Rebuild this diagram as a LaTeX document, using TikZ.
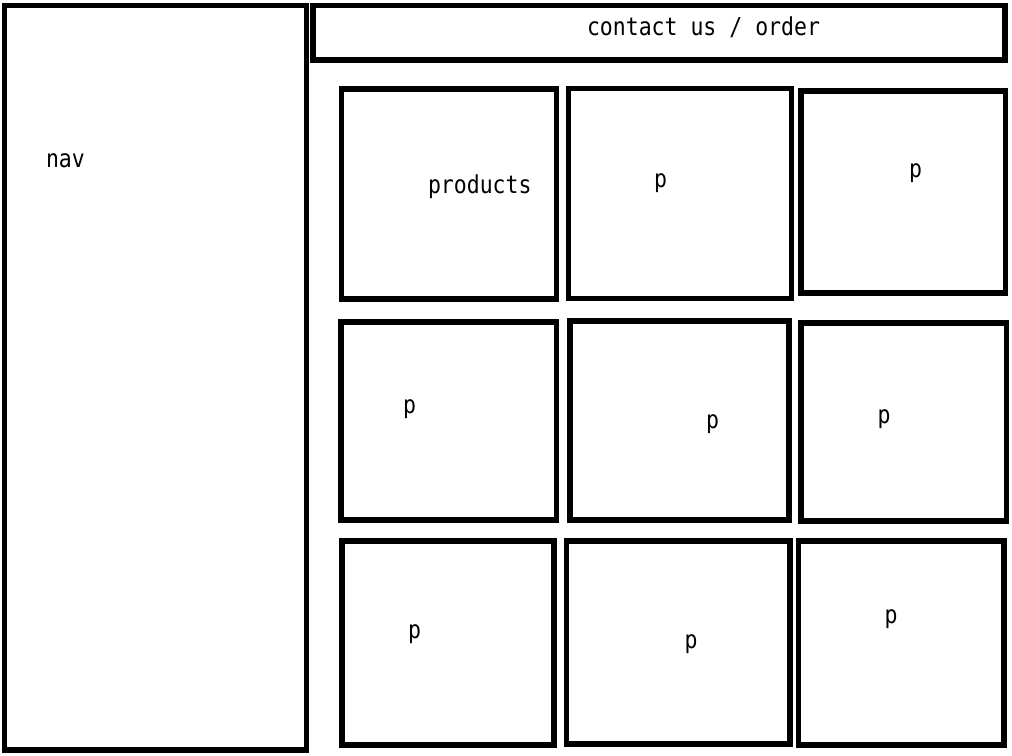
\documentclass[tikz,border=0pt]{standalone}
\usepackage{fontspec}
\usepackage{graphicx}
\newfontfamily\wfmono{DejaVu Sans Mono}
\newcommand\wftxt[1]{\scalebox{1}[1.15]{#1}}
\usetikzlibrary{fit}
\begin{document}
\begin{tikzpicture}[x=1pt,y=-1pt,
  box/.style={draw=black, line width=5.5pt, inner sep=0pt, outer sep=0pt},
  lbl/.style={inner sep=0pt, outer sep=0pt, font=\wfmono\fontsize{21.5}{24}\selectfont}]
\useasboundingbox[fill=white] (0,0) rectangle (1012,755);
% frames
\node[box, fit={(4.5,5.5) (306.5,750)}] (nav) {};
\node[box, fit={(313,5.5) (1005.2,60.2)}] (head) {};
\node[box, fit={(341.5,89.2) (556.5,299)}] (a) {};
\node[box, fit={(568.3,88.5) (791.5,298.3)}] (b) {};
\node[box, fit={(800.8,90.8) (1005.5,293.2)}] (c) {};
\node[box, fit={(340.8,321.8) (556.5,520.2)}] (d) {};
\node[box, fit={(569.8,320.8) (789.2,519.8)}] (e) {};
\node[box, fit={(800.8,323.2) (1006.5,520.8)}] (f) {};
\node[box, fit={(341.8,540.8) (554.2,745.2)}] (g) {};
\node[box, fit={(566.5,540.8) (789.8,744.2)}] (h) {};
\node[box, fit={(798.3,540.8) (1004.2,744.8)}] (i) {};
% labels
\node[lbl, anchor=base west] (tnav) at (46,167) {\wftxt{nav}};
\node[lbl, anchor=base west] (thead) at (587,35) {\wftxt{contact us / order}};
\node[lbl, anchor=base west] (ta) at (428,193) {\wftxt{products}};
\node[lbl, anchor=base] (tb) at (660.5,187) {\wftxt{p}};
\node[lbl, anchor=base] (tc) at (915.5,177) {\wftxt{p}};
\node[lbl, anchor=base] (td) at (409.5,413) {\wftxt{p}};
\node[lbl, anchor=base] (te) at (712.5,428) {\wftxt{p}};
\node[lbl, anchor=base] (tf) at (884,423) {\wftxt{p}};
\node[lbl, anchor=base] (tg) at (414.5,638) {\wftxt{p}};
\node[lbl, anchor=base] (th) at (691,648) {\wftxt{p}};
\node[lbl, anchor=base] (ti) at (891,623) {\wftxt{p}};
\end{tikzpicture}
\end{document}
